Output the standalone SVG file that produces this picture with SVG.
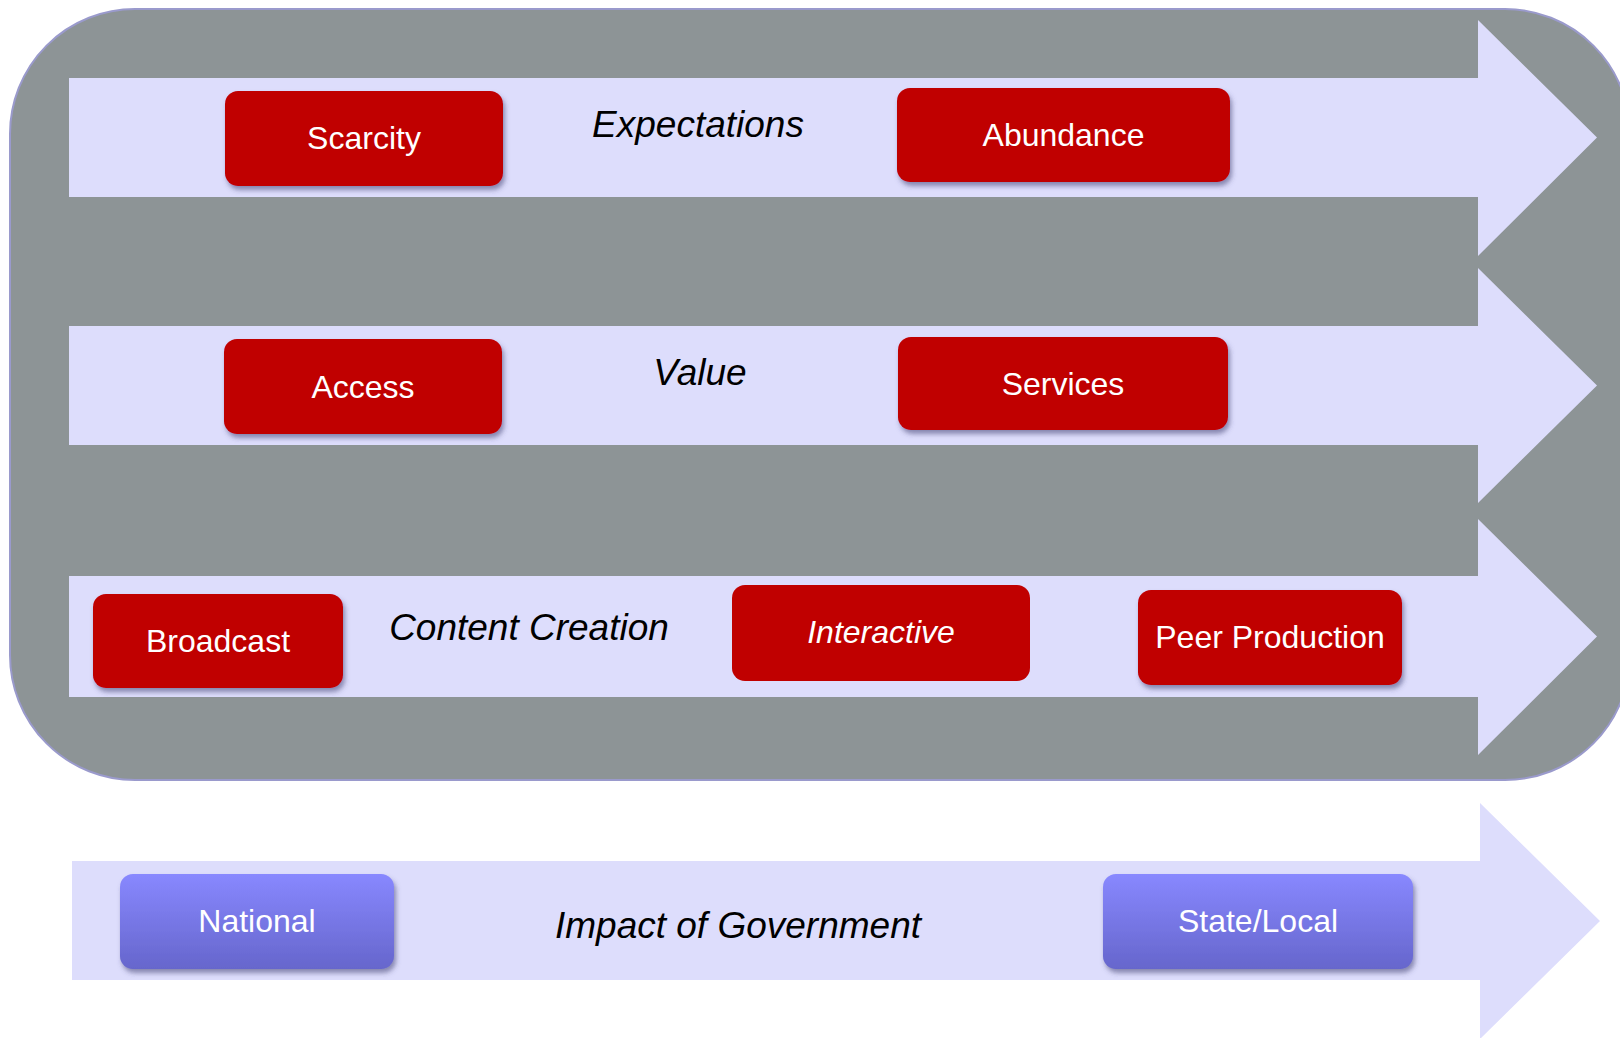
<svg xmlns="http://www.w3.org/2000/svg" width="1620" height="1038" viewBox="0 0 1620 1038">
<defs>
<style>
.band{fill:#DDDDFC;}
.red{fill:#C00000;}
.blue{fill:url(#blueGrad);}
.bt{font-family:"Liberation Sans",Arial,sans-serif;font-size:32px;fill:#FFFFFF;text-anchor:middle;}
.lbl{font-family:"Liberation Sans",Arial,sans-serif;font-size:37px;font-style:italic;fill:#000000;text-anchor:middle;}
</style>
<linearGradient id="blueGrad" x1="0" y1="0" x2="0" y2="1">
<stop offset="0" stop-color="#8888FF"/>
<stop offset="1" stop-color="#6666CC"/>
</linearGradient>
<filter id="sh" x="-10%" y="-10%" width="125%" height="135%">
<feDropShadow dx="2" dy="4" stdDeviation="2.5" flood-color="#404070" flood-opacity="0.55"/>
</filter>
</defs>
<rect width="1620" height="1038" fill="#FFFFFF"/>
<g id="background">
<rect x="10" y="9" width="1620" height="771" rx="125" ry="125" fill="#8D9496" stroke="#9A9ACC" stroke-width="2"/>
</g>
<g id="connectors">
<polygon class="band" points="69,78 1478,78 1478,20 1597,137.5 1478,256 1478,197 69,197"/>
<polygon class="band" points="69,326 1478,326 1478,268 1597,385.5 1478,503 1478,445 69,445"/>
<polygon class="band" points="69,576 1478,576 1478,519 1597,636.5 1478,755 1478,697 69,697"/>
<polygon class="band" points="72,861 1480,861 1480,803 1600,921 1480,1039 1480,980 72,980"/>
</g>
<g id="label-expectations"><text class="lbl" x="698" y="137">Expectations</text></g>
<g id="label-value"><text class="lbl" x="700" y="385">Value</text></g>
<g id="label-content"><text class="lbl" x="529" y="640">Content Creation</text></g>
<g id="label-government"><text class="lbl" x="738" y="938">Impact of Government</text></g>
<g id="node-scarcity">
<rect class="red" x="225" y="91" width="278" height="95" rx="13" filter="url(#sh)"/>
<text class="bt" x="364" y="149">Scarcity</text>
</g>
<g id="node-abundance">
<rect class="red" x="897" y="88" width="333" height="94" rx="13" filter="url(#sh)"/>
<text class="bt" x="1063.5" y="146">Abundance</text>
</g>
<g id="node-access">
<rect class="red" x="224" y="339" width="278" height="95" rx="13" filter="url(#sh)"/>
<text class="bt" x="363" y="398">Access</text>
</g>
<g id="node-services">
<rect class="red" x="898" y="337" width="330" height="93" rx="13" filter="url(#sh)"/>
<text class="bt" x="1063" y="395">Services</text>
</g>
<g id="node-broadcast">
<rect class="red" x="93" y="594" width="250" height="94" rx="13" filter="url(#sh)"/>
<text class="bt" x="218" y="652">Broadcast</text>
</g>
<g id="node-interactive">
<rect class="red" x="732" y="585" width="298" height="96" rx="13"/>
<text class="bt" x="881" y="643" font-style="italic">Interactive</text>
</g>
<g id="node-peer">
<rect class="red" x="1138" y="590" width="264" height="95" rx="13" filter="url(#sh)"/>
<text class="bt" x="1270" y="648">Peer Production</text>
</g>
<g id="node-national">
<rect class="blue" x="120" y="874" width="274" height="95" rx="13" filter="url(#sh)"/>
<text class="bt" x="257" y="932">National</text>
</g>
<g id="node-statelocal">
<rect class="blue" x="1103" y="874" width="310" height="95" rx="13" filter="url(#sh)"/>
<text class="bt" x="1258" y="932">State/Local</text>
</g>
</svg>
